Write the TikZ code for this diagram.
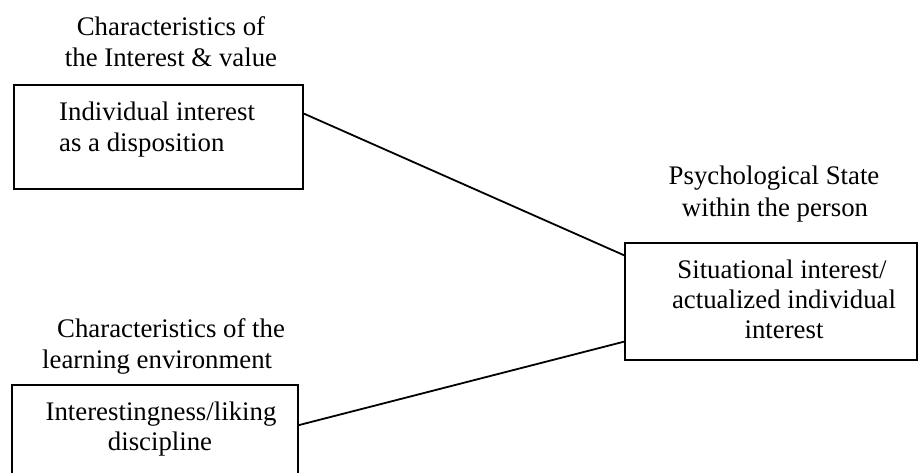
\documentclass[tikz,border=0pt]{standalone}
\usepackage{fontspec}
\setmainfont{Liberation Serif}
\usetikzlibrary{calc}
\tikzset{
  frame/.style={draw, line width=1.8pt, rectangle, inner sep=0pt},
  label text/.style={anchor=base, inner sep=0pt, font=\fontsize{26.8}{31}\selectfont},
  link/.style={line width=1.8pt}
}
\begin{document}
\begin{tikzpicture}[x=1pt, y=-1pt]
\useasboundingbox (0,0) rectangle (918,473);
\clip (0,0) rectangle (918,473);

% boxes
\node[frame, minimum width=289pt, minimum height=104pt] (ind) at (158.5,137) {};
\node[frame, minimum width=292pt, minimum height=117pt] (sit) at (771,301.5) {};
\node[frame, minimum width=286pt, minimum height=105pt] (env) at (155,437.5) {};

% headings
\node[label text] (h1a) at (171,36) {Characteristics of};
\node[label text] (h1b) at (171,67) {the Interest \& value};
\node[label text] (h2a) at (774,185) {Psychological State};
\node[label text] (h2b) at (775,216) {within the person};
\node[label text, anchor=base west] (h3a) at (57,337) {Characteristics of the};
\node[label text, anchor=base west] (h3b) at (42,368) {learning environment};

% box contents
\node[label text, anchor=base west] (t1a) at (59,121) {Individual interest};
\node[label text, anchor=base west] (t1b) at (59,152) {as a disposition};
\node[label text] (t2a) at (782,278) {Situational interest/};
\node[label text] (t2b) at (784,308) {actualized individual};
\node[label text] (t2c) at (784,338) {interest};
\node[label text] (t3a) at (161,420) {Interestingness/liking};
\node[label text] (t3b) at (160,450) {discipline};

% connection points on the box edges
\coordinate (p1) at ($(ind.north east)!0.279!(ind.south east)$);
\coordinate (q1) at ($(sit.north west)!0.111!(sit.south west)$);
\coordinate (q2) at ($(sit.north west)!0.838!(sit.south west)$);
\coordinate (p2) at ($(env.north east)+(0,41)$);

\draw[link] (p1) -- (q1);
\draw[link] (p2) -- (q2);
\end{tikzpicture}
\end{document}
